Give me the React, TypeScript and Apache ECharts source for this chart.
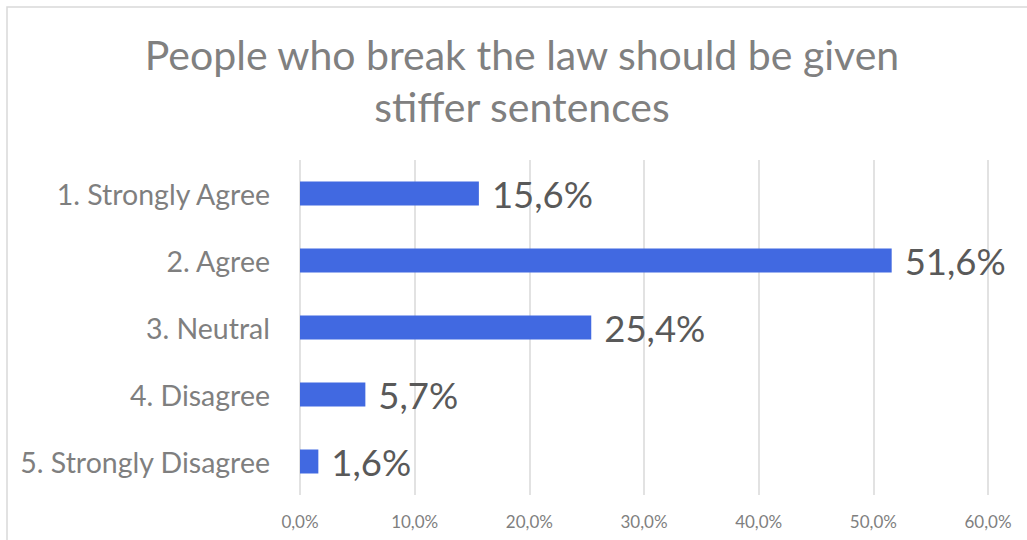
import React, { useEffect, useRef } from "react";
import * as echarts from "echarts";

const categories = [
  "1. Strongly Agree",
  "2. Agree",
  "3. Neutral",
  "4. Disagree",
  "5. Strongly Disagree",
];
const values = [15.6, 51.6, 25.4, 5.7, 1.6];
const titleText = "People who break the law should be given\nstiffer sentences";

const fmt = (v: number) => v.toFixed(1).replace(".", ",") + "%";

export default function App() {
  const ref = useRef<HTMLDivElement>(null);
  useEffect(() => {
    document.body.style.margin = "0";
    const chart = echarts.init(ref.current!, null, { renderer: "svg" });
    const font = "Lato, 'Open Sans', sans-serif";
    chart.setOption({
      animation: false,
      backgroundColor: "#ffffff",
      textStyle: { fontFamily: font },
      graphic: [
        {
          type: "rect",
          shape: { x: 7, y: 7, width: 1040, height: 560 },
          style: { fill: "none", stroke: "#d9d9d9", lineWidth: 1.5 },
          silent: true,
        },
        {
          type: "text",
          x: 522,
          y: 28,
          silent: true,
          style: {
            text: titleText,
            fill: "#808080",
            fontSize: 41,
            fontFamily: font,
            fontWeight: "normal",
            lineHeight: 52,
            align: "center",
            verticalAlign: "top",
          },
        },
      ],
      grid: { left: 300, right: 39, top: 160, bottom: 45, containLabel: false },
      xAxis: {
        type: "value",
        min: 0,
        max: 60,
        interval: 10,
        axisLine: { show: false },
        axisTick: { show: false },
        splitLine: { lineStyle: { color: "#d9d9d9", width: 1.5 } },
        axisLabel: {
          color: "#7f7f7f",
          fontSize: 17,
          margin: 18,
          fontFamily: font,
          formatter: (v: number) => fmt(v),
        },
      },
      yAxis: {
        type: "category",
        inverse: true,
        data: categories,
        axisLine: { show: false },
        axisTick: { show: false },
        axisLabel: { color: "#7f7f7f", fontSize: 28.5, margin: 30, fontFamily: font },
      },
      series: [
        {
          type: "bar",
          data: values,
          barWidth: 24,
          itemStyle: { color: "#4169e1" },
          label: {
            show: true,
            position: "right",
            distance: 13,
            color: "#595959",
            fontSize: 36.5,
            fontFamily: font,
            formatter: (p: any) => fmt(p.value),
          },
        },
      ],
    });
    return () => chart.dispose();
  }, []);
  return <div ref={ref} style={{ width: 1027, height: 540 }} />;
}
